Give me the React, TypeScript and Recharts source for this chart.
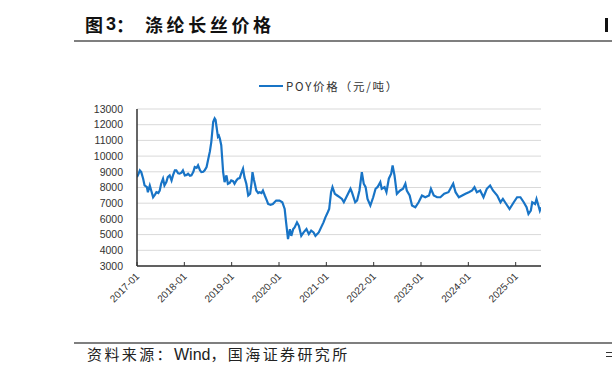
import { CartesianGrid, Legend, Line, LineChart, XAxis, YAxis } from "recharts";

const years = [
  2017.0, 2017.03, 2017.06, 2017.09, 2017.13, 2017.16, 2017.21, 2017.23, 2017.27, 2017.3, 2017.34, 2017.38, 2017.41,
  2017.45, 2017.48, 2017.51, 2017.55, 2017.58, 2017.62, 2017.65, 2017.69, 2017.73, 2017.76, 2017.8, 2017.83, 2017.87,
  2017.9, 2017.94, 2017.97, 2018.01, 2018.05, 2018.08, 2018.12, 2018.15, 2018.19, 2018.22, 2018.26, 2018.29, 2018.33,
  2018.36, 2018.4, 2018.43, 2018.47, 2018.5, 2018.54, 2018.57, 2018.61, 2018.64, 2018.66, 2018.68, 2018.71, 2018.73,
  2018.75, 2018.78, 2018.82, 2018.85, 2018.89, 2018.92, 2018.96, 2018.99, 2019.03, 2019.06, 2019.1, 2019.13, 2019.17,
  2019.2, 2019.24, 2019.27, 2019.31, 2019.35, 2019.39, 2019.42, 2019.44, 2019.47, 2019.49, 2019.52, 2019.56, 2019.59,
  2019.63, 2019.66, 2019.7, 2019.74, 2019.77, 2019.82, 2019.87, 2019.9, 2019.94, 2020.01, 2020.07, 2020.12, 2020.15,
  2020.19, 2020.23, 2020.26, 2020.3, 2020.33, 2020.38, 2020.42, 2020.47, 2020.52, 2020.58, 2020.63, 2020.68, 2020.73,
  2020.77, 2020.84, 2020.89, 2020.94, 2020.98, 2021.03, 2021.06, 2021.1, 2021.13, 2021.18, 2021.23, 2021.28, 2021.33,
  2021.37, 2021.44, 2021.51, 2021.54, 2021.61, 2021.65, 2021.7, 2021.75, 2021.79, 2021.83, 2021.87, 2021.93, 2021.99,
  2022.04, 2022.08, 2022.14, 2022.17, 2022.23, 2022.27, 2022.32, 2022.37, 2022.4, 2022.44, 2022.49, 2022.56, 2022.62,
  2022.67, 2022.7, 2022.76, 2022.81, 2022.88, 2022.95, 2023.02, 2023.09, 2023.17, 2023.21, 2023.27, 2023.34, 2023.41,
  2023.49, 2023.58, 2023.68, 2023.73, 2023.8, 2023.87, 2023.94, 2024.01, 2024.08, 2024.13, 2024.18, 2024.25, 2024.32,
  2024.39, 2024.46, 2024.52, 2024.61, 2024.68, 2024.73, 2024.8, 2024.87, 2024.96, 2025.03, 2025.1, 2025.17, 2025.23,
  2025.27, 2025.32, 2025.35, 2025.41, 2025.44, 2025.48, 2025.51, 2025.535,
];

const prices = [
  8660, 8850, 9090, 8980, 8560, 8130, 8020, 7700, 8130, 7810, 7380, 7550, 7700,
  7650, 7810, 8240, 8560, 8130, 8350, 8660, 8770, 8450, 8770, 9090, 9090, 8900,
  8880, 8950, 9090, 8770, 8800, 8880, 8750, 8770, 9000, 9300, 9250, 9410, 9100,
  8980, 9000, 9090, 9300, 9730, 10300, 10910, 12190, 12400, 12300, 11870, 11230, 11300,
  11120, 10690, 8980, 8340, 8770, 8240, 8300, 8450, 8400, 8240, 8450, 8560, 8600,
  8880, 9200, 8660, 8240, 7490, 7600, 8300, 8980, 8500, 8240, 7810, 7650, 7700,
  7650, 7810, 7490, 7200, 6950, 6900, 6950, 7050, 7170, 7170, 7060, 6630, 5780,
  4710, 5350, 4920, 5350, 5460, 5780, 5560, 4920, 5140, 5350, 5030, 5250, 5140,
  4920, 5140, 5460, 5780, 6100, 6420, 6630, 7700, 8020, 7600, 7490, 7380, 7270,
  7060, 7490, 7920, 7700, 7060, 7170, 7810, 8980, 8240, 8020, 7270, 6850, 7380,
  7920, 8020, 8340, 7920, 8020, 7700, 8560, 8880, 9410, 8770, 7600, 7810, 7920,
  8240, 7810, 7490, 6850, 6740, 7060, 7490, 7380, 7490, 7920, 7490, 7380, 7380,
  7600, 7700, 8240, 7700, 7380, 7490, 7600, 7700, 7810, 8020, 7700, 7810, 7380,
  7920, 8130, 7810, 7490, 7060, 7270, 6950, 6630, 7060, 7380, 7380, 7060, 6740,
  6310, 6530, 7060, 6950, 7270, 6850, 6530, 6740,
];

const yearTicks = [2017, 2018, 2019, 2020, 2021, 2022, 2023, 2024, 2025];
const priceTicks = [3000, 4000, 5000, 6000, 7000, 8000, 9000, 10000, 11000, 12000, 13000];

const seriesName = "POY价格（元/吨）";
const title = "涤纶长丝价格";
const sourceLead = "资料来源：";
const sourceName = "Wind";
const sourceTail = "，国海证券研究所";

const data = years.map((t, i) => ({ t, price: prices[i] }));

const LINE_COLOR = "#1874c6";
const AXIS_FONT = "'Liberation Sans', Arial, sans-serif";
const CJK_FONT = "'Noto Sans CJK SC', 'Liberation Sans', sans-serif";

function YearTick(props: any) {
  const { x, y, payload } = props;
  const tx = x + 3;
  const ty = y + 11;
  return (
    <g>
      <line x1={x} x2={x} y1={y} y2={y - 4} stroke="#333" strokeWidth={1} />
      <text
        x={tx}
        y={ty}
        textAnchor="end"
        transform={`rotate(-45 ${tx} ${ty})`}
        fontSize={10}
        fontFamily={AXIS_FONT}
        fill="#333"
      >
        {`${payload.value}-01`}
      </text>
    </g>
  );
}

function LegendContent() {
  return (
    <div style={{ display: "flex", alignItems: "center", whiteSpace: "nowrap" }}>
      <svg width={26} height={10}>
        <line x1={1} x2={25} y1={5} y2={5} stroke={LINE_COLOR} strokeWidth={2} />
      </svg>
      <span style={{ fontFamily: CJK_FONT, fontSize: 11.5, color: "#333", letterSpacing: 1.8, marginLeft: 2 }}>
        {seriesName}
      </span>
    </div>
  );
}

export default function App() {
  const titleStyle = {
    position: "absolute" as const,
    top: 13,
    fontFamily: CJK_FONT,
    fontWeight: 700,
    fontSize: 18,
    color: "#111",
    whiteSpace: "nowrap" as const,
    lineHeight: "22px",
  };
  return (
    <div
      style={{
        position: "absolute",
        left: 0,
        top: 0,
        width: 612,
        height: 378,
        background: "#fff",
        overflow: "hidden",
      }}
    >
      <div style={{ ...titleStyle, left: 85 }}>图</div>
      <div style={{ ...titleStyle, left: 106, fontFamily: AXIS_FONT }}>3</div>
      <div style={{ ...titleStyle, left: 116 }}>：</div>
      <div style={{ ...titleStyle, left: 145, letterSpacing: 3.6 }}>{title}</div>
      {/* edge of the next column's heading, cut by the page border */}
      <div style={{ position: "absolute", left: 605, top: 18, width: 2.5, height: 14, background: "#111" }} />
      <div style={{ position: "absolute", left: 74, top: 40, width: 540, height: 2, background: "#7f7f7f" }} />

      <div style={{ position: "absolute", left: 0, top: 0 }}>
        <LineChart width={612} height={378} data={data} margin={{ top: 109, right: 71, bottom: 73, left: 0 }}>
          <CartesianGrid vertical={false} stroke="#d9d9d9" strokeWidth={1} />
          <XAxis
            dataKey="t"
            type="number"
            domain={[2017, 2025.535]}
            ticks={yearTicks}
            allowDataOverflow
            height={39}
            tickSize={0}
            tickMargin={0}
            tickLine={false}
            axisLine={{ stroke: "#333", strokeWidth: 1.5 }}
            tick={<YearTick />}
            interval={0}
          />
          <YAxis
            type="number"
            domain={[3000, 13000]}
            ticks={priceTicks}
            width={137}
            tickSize={0}
            tickMargin={14}
            tickLine={false}
            axisLine={{ stroke: "#333", strokeWidth: 1.5 }}
            tick={{ fontSize: 10.5, fill: "#333", fontFamily: AXIS_FONT }}
            interval={0}
          />
          <Legend
            layout="horizontal"
            align="center"
            verticalAlign="middle"
            wrapperStyle={{ top: 78, left: 258, width: 200 }}
            content={<LegendContent />}
          />
          <Line
            type="linear"
            dataKey="price"
            name={seriesName}
            stroke={LINE_COLOR}
            strokeWidth={2.2}
            dot={false}
            activeDot={false}
            isAnimationActive={false}
          />
        </LineChart>
      </div>

      <div style={{ position: "absolute", left: 74, top: 342, width: 540, height: 2, background: "#7f7f7f" }} />
      <div
        style={{
          position: "absolute",
          left: 87,
          top: 345,
          fontFamily: CJK_FONT,
          fontSize: 15,
          color: "#222",
          whiteSpace: "nowrap",
          lineHeight: "18px",
        }}
      >
        <span style={{ letterSpacing: 2.4 }}>{sourceLead}</span>
        <span style={{ fontFamily: AXIS_FONT, fontSize: 16 }}>{sourceName}</span>
        <span style={{ letterSpacing: 2.4 }}>{sourceTail}</span>
      </div>
      {/* fragment of the next column's source note at the page border */}
      <div style={{ position: "absolute", left: 606, top: 352, width: 6, height: 1.2, background: "#333" }} />
      <div style={{ position: "absolute", left: 606, top: 356, width: 6, height: 1.2, background: "#333" }} />
    </div>
  );
}
